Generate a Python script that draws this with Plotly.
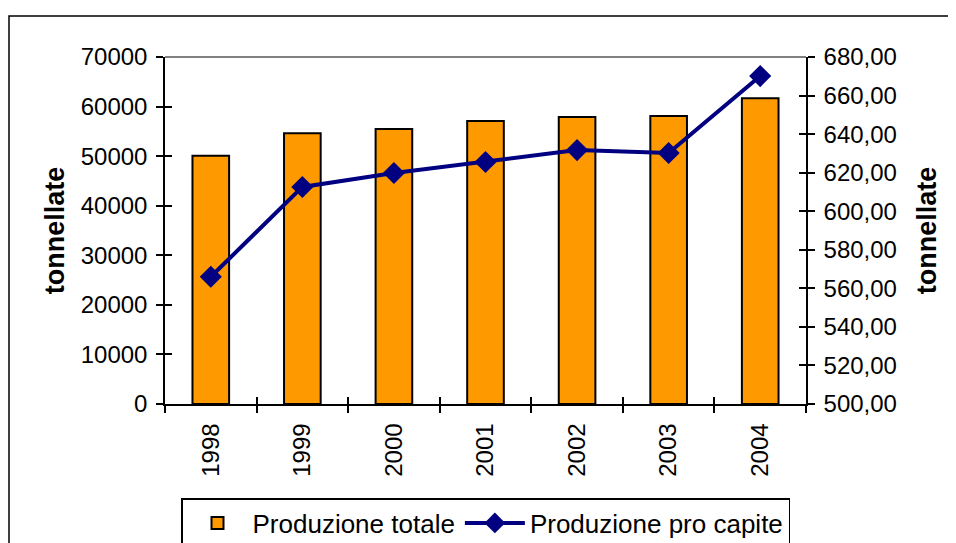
import plotly.graph_objects as go

years = ["1998", "1999", "2000", "2001", "2002", "2003", "2004"]
totale = [50100, 54600, 55500, 57100, 57900, 58100, 61700]
pro_capite = [566.0, 612.6, 619.8, 625.5, 631.7, 630.2, 670.1]

FONT = "Liberation Sans, Arial, sans-serif"

fig = go.Figure()
fig.add_trace(go.Bar(
    x=years, y=totale, name="Produzione totale",
    marker=dict(color="#FF9900", line=dict(color="black", width=2)),
    yaxis="y",
))
fig.add_trace(go.Scatter(
    x=years, y=pro_capite, name="Produzione pro capite",
    mode="lines+markers",
    line=dict(color="#000080", width=4),
    marker=dict(symbol="diamond", size=17, color="#000080"),
    yaxis="y2",
))
# helper traces so the inside-tick overlay axes are drawn
fig.add_trace(go.Scatter(x=[None], y=[None], xaxis="x2", yaxis="y3",
                         showlegend=False, hoverinfo="skip"))
fig.add_trace(go.Scatter(x=[None], y=[None], xaxis="x2", yaxis="y4",
                         showlegend=False, hoverinfo="skip"))

tick_common = dict(tickcolor="black", tickwidth=1.5, ticklen=7, showgrid=False,
                   zeroline=False)

fig.update_layout(
    width=948, height=580,
    margin=dict(l=157, r=150, t=49, b=184),
    paper_bgcolor="white", plot_bgcolor="white",
    font=dict(family=FONT, size=24, color="black"),
    bargap=0.6,
    showlegend=True,
    legend=dict(
        orientation="h", x=0.5, xanchor="center", y=-0.271, yanchor="top",
        bordercolor="black", borderwidth=1.5, font=dict(size=26),
        itemwidth=60, tracegroupgap=0,
    ),
    xaxis=dict(
        type="category", showline=True, linecolor="black", linewidth=1.5,
        ticks="outside", tickson="boundaries", tickangle=-90,
        ticklabelstandoff=8,
        tickfont=dict(size=24), **tick_common,
    ),
    xaxis2=dict(
        overlaying="x", range=[-0.5, 6.5], tickmode="array",
        tickvals=[-0.5, 0.5, 1.5, 2.5, 3.5, 4.5, 5.5, 6.5],
        ticks="inside", showticklabels=False, showline=False,
        anchor="y3", side="bottom", **tick_common,
    ),
    yaxis=dict(
        range=[0, 70000], dtick=10000, showline=True, linecolor="black",
        linewidth=1.5, ticks="outside", tickformat="d", ticklabelstandoff=4,
        title=dict(text="<b>tonnellate</b>", font=dict(size=27), standoff=8),
        tickfont=dict(size=24), **tick_common,
    ),
    yaxis2=dict(
        range=[500, 680], dtick=20, overlaying="y", side="right",
        showline=True, linecolor="black", linewidth=1.5, ticks="outside",
        tickformat=".2f", ticklabelstandoff=4,
        title=dict(text="<b>tonnellate</b>", font=dict(size=27), standoff=21),
        tickfont=dict(size=24), **tick_common,
    ),
    yaxis3=dict(
        range=[0, 70000], dtick=10000, overlaying="y", side="left",
        ticks="inside", showticklabels=False, showline=False, anchor="x2",
        **tick_common,
    ),
    yaxis4=dict(
        range=[500, 680], dtick=20, overlaying="y", side="right",
        ticks="inside", showticklabels=False, showline=False, anchor="x2",
        **tick_common,
    ),
    separators=",.",
    shapes=[
        dict(type="line", xref="paper", yref="paper", x0=0, x1=1, y0=1, y1=1,
             line=dict(color="#808080", width=2)),
        dict(type="rect", xref="paper", yref="paper",
             x0=(9 - 165) / 641, x1=(990 - 165) / 641,
             y0=(404 - 16) / 347, y1=(404 - 580) / 347,
             line=dict(color="black", width=1.5), layer="below"),
    ],
)

fig.write_html("out.html")
